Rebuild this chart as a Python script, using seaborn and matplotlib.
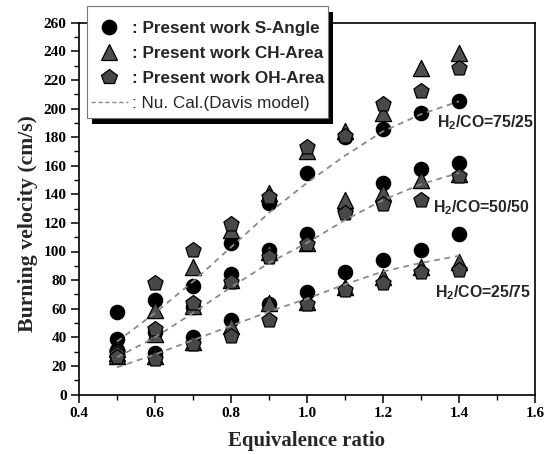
import matplotlib
matplotlib.use("Agg")
import matplotlib.pyplot as plt
import seaborn as sns
import pandas as pd
from matplotlib.lines import Line2D
from matplotlib.patches import Rectangle
from matplotlib.ticker import MultipleLocator, FormatStrFormatter

# ---------------- data ----------------
phi = [0.5, 0.6, 0.7, 0.8, 0.9, 1.0, 1.1, 1.2, 1.3, 1.4]

# H2/CO = 75/25
s_angle_75 = [58, 66, 76, 106, 134, 155, 180, 186, 197, 205]
ch_area_75 = [32, 59, 89, 115, 141, 170, 184, 197, 228, 239]
oh_area_75 = [30, 78, 101, 119, 138, 173, 181, 203, 212, 228]
davis_75 = [37, 57, 79, 103, 127, 148, 167, 184, 196, 205]

# H2/CO = 50/50
s_angle_50 = [39, 44, 61, 84, 101, 112, 130, 148, 158, 162]
ch_area_50 = [29, 42, 62, 80, 100, 106, 136, 141, 150, 154]
oh_area_50 = [28, 46, 64, 79, 96, 105, 127, 133, 136, 153]
davis_50 = [26, 40, 57, 75, 92, 106, 122, 136, 147, 155]

# H2/CO = 25/75
s_angle_25 = [31, 29, 40, 52, 63, 72, 86, 94, 101, 112]
ch_area_25 = [27, 27, 37, 48, 64, 65, 75, 82, 89, 93]
oh_area_25 = [26, 25, 35, 41, 52, 63, 73, 78, 86, 87]
davis_25 = [19, 28, 38, 48, 58, 67, 77, 86, 92, 97]

mixtures = ["75/25", "50/50", "25/75"]
methods = ["S-Angle", "CH-Area", "OH-Area"]
legend_labels = [": Present work S-Angle", ": Present work CH-Area",
                 ": Present work OH-Area", ": Nu. Cal.(Davis model)"]
label_pos = {"75/25": (1.342, 190), "50/50": (1.332, 131), "25/75": (1.337, 71)}

exp = {
    ("75/25", "S-Angle"): s_angle_75, ("75/25", "CH-Area"): ch_area_75, ("75/25", "OH-Area"): oh_area_75,
    ("50/50", "S-Angle"): s_angle_50, ("50/50", "CH-Area"): ch_area_50, ("50/50", "OH-Area"): oh_area_50,
    ("25/75", "S-Angle"): s_angle_25, ("25/75", "CH-Area"): ch_area_25, ("25/75", "OH-Area"): oh_area_25,
}
model = {"75/25": davis_75, "50/50": davis_50, "25/75": davis_25}

rows = []
for m in methods:
    for mix in mixtures:
        for p, v in zip(phi, exp[(mix, m)]):
            rows.append({"phi": p, "Su": v, "method": m, "mixture": mix})
df = pd.DataFrame(rows)

mrows = []
for mix in mixtures:
    for p, v in zip(phi, model[mix]):
        mrows.append({"phi": p, "Su": v, "mixture": mix})
mdf = pd.DataFrame(mrows)

# ---------------- style ----------------
sns.set_theme(style="ticks")
plt.rcParams["font.family"] = ["Liberation Serif", "DejaVu Serif"]
plt.rcParams["mathtext.fontset"] = "custom"
plt.rcParams["mathtext.rm"] = "Liberation Sans:bold"
plt.rcParams["mathtext.bf"] = "Liberation Sans:bold"
plt.rcParams["mathtext.it"] = "Liberation Sans:bold"
plt.rcParams["mathtext.default"] = "bf"

W, H = 546, 454
fig = plt.figure(figsize=(W / 100, H / 100), dpi=100)
ax = fig.add_axes([79 / W, 1 - 394.5 / H, (535 - 79) / W, (394.5 - 22.7) / H])

marker_style = {
    "S-Angle": dict(marker="o", s=106, color="black"),
    "CH-Area": dict(marker="^", s=136, color="#4f4f4f"),
    "OH-Area": dict(marker="p", s=132, color="#484848"),
}
for m in methods:
    st = marker_style[m]
    sns.scatterplot(data=df[df["method"] == m], x="phi", y="Su", ax=ax,
                    marker=st["marker"], s=st["s"], color=st["color"],
                    edgecolor="black", linewidth=0.9, legend=False, zorder=3)

sns.lineplot(data=mdf, x="phi", y="Su", units="mixture", estimator=None, ax=ax,
             color="#8a8a8a", linewidth=1.3, linestyle=(0, (3.2, 2.6)),
             legend=False, zorder=4)

for mix in mixtures:
    x, y = label_pos[mix]
    ax.text(x, y, "H$_2$/CO=" + mix, family="Liberation Sans", fontweight="bold",
            fontsize=11.4, va="center", ha="left", zorder=6)

ax.set_xlim(0.4, 1.6)
ax.set_ylim(0, 260)
ax.xaxis.set_major_locator(MultipleLocator(0.2))
ax.xaxis.set_minor_locator(MultipleLocator(0.1))
ax.yaxis.set_major_locator(MultipleLocator(20))
ax.yaxis.set_minor_locator(MultipleLocator(10))
ax.xaxis.set_major_formatter(FormatStrFormatter("%.1f"))
ax.yaxis.set_major_formatter(FormatStrFormatter("%d"))
ax.tick_params(which="major", direction="out", length=6, width=1.1, colors="black",
               labelsize=11, pad=3)
ax.tick_params(which="minor", direction="out", length=3.5, width=1.0, colors="black")
for lab in ax.get_xticklabels() + ax.get_yticklabels():
    lab.set_fontweight("bold")
for sp in ax.spines.values():
    sp.set_visible(True)
    sp.set_color("black")
    sp.set_linewidth(1.2)

ax.set_xlabel("Equivalence ratio", fontsize=15, fontweight="bold", labelpad=8)
ax.set_ylabel("Burning velocity (cm/s)", fontsize=15.7, fontweight="bold")
ax.yaxis.set_label_coords((38 - 79) / (535 - 79), (394.5 - 224) / (394.5 - 22.7))

# ---------------- legend ----------------
handles = [
    Line2D([], [], linestyle="none", marker="o", markersize=10.3, markerfacecolor="black",
           markeredgecolor="black"),
    Line2D([], [], linestyle="none", marker="^", markersize=11.7, markerfacecolor="#4f4f4f",
           markeredgecolor="black", markeredgewidth=0.9),
    Line2D([], [], linestyle="none", marker="p", markersize=11.5, markerfacecolor="#484848",
           markeredgecolor="black", markeredgewidth=0.9),
    Line2D([], [], color="#8a8a8a", linewidth=1.0, linestyle=(0, (3, 2))),
]
# legend frame with hard black shadow
frame_x0, frame_y0, frame_x1, frame_y1 = 87, 6, 328, 118
fig.add_artist(Rectangle(((frame_x0 + 5) / W, 1 - (frame_y1 + 6) / H),
                         (frame_x1 - frame_x0) / W, (frame_y1 - frame_y0) / H,
                         transform=fig.transFigure, facecolor="black", edgecolor="none",
                         zorder=3.8))
fig.add_artist(Rectangle((frame_x0 / W, 1 - frame_y1 / H),
                         (frame_x1 - frame_x0) / W, (frame_y1 - frame_y0) / H,
                         transform=fig.transFigure, facecolor="white", edgecolor="#777777",
                         linewidth=0.8, zorder=3.9))
leg = fig.legend(handles, legend_labels, loc="upper left",
                 bbox_to_anchor=(91 / W, 1 - 21 / H), bbox_transform=fig.transFigure,
                 prop={"family": "Liberation Sans", "size": 12.3},
                 frameon=False, handlelength=2.15, handletextpad=0.25,
                 labelspacing=0.59, borderpad=0, borderaxespad=0)
leg.set_zorder(4)
for t in leg.get_texts()[:3]:
    t.set_fontweight("bold")

fig.savefig("out.png", dpi=100)
